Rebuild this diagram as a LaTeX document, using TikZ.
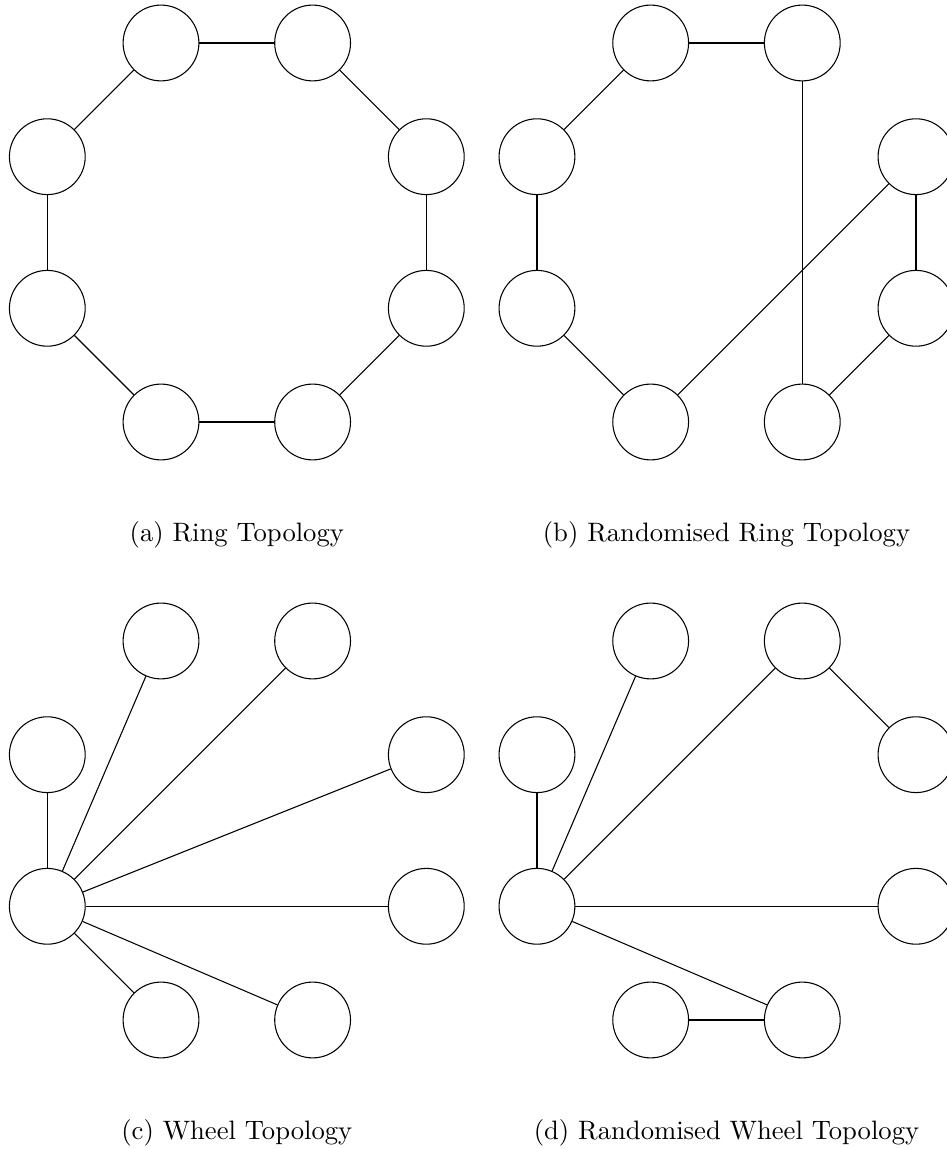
\documentclass[tikz,border=0pt]{standalone}
\tikzset{
  vertex/.style={draw, circle, minimum size=1cm, inner sep=0pt, line width=0.4pt},
  link/.style={line width=0.4pt},
  subcap/.style={anchor=base, inner sep=0pt}
}
% eight vertices on the octagon-like grid, names prefixed by #1
\newcommand\octnodes[1]{%
  \node[vertex] (#1tl) at (1.5,5)   {};
  \node[vertex] (#1tr) at (3.5,5)   {};
  \node[vertex] (#1ul) at (0,3.5)   {};
  \node[vertex] (#1ur) at (5,3.5)   {};
  \node[vertex] (#1ll) at (0,1.5)   {};
  \node[vertex] (#1lr) at (5,1.5)   {};
  \node[vertex] (#1bl) at (1.5,0)   {};
  \node[vertex] (#1br) at (3.5,0)   {};
}
\begin{document}
\begin{tikzpicture}
\useasboundingbox (0,0) rectangle (12.493,-15.158);
\clip (0,0) rectangle (12.493,-15.158);

% (a) ring
\begin{scope}[shift={(0.624,-5.567)}]
  \octnodes{a}
  \draw[link] (atl) -- (atr);
  \draw[link] (atl) -- (aul);
  \draw[link] (aul) -- (all);
  \draw[link] (all) -- (abl);
  \draw[link] (abl) -- (abr);
  \draw[link] (abr) -- (alr);
  \draw[link] (alr) -- (aur);
  \draw[link] (aur) -- (atr);
  \node[subcap] (capa) at (2.5,-1.57) {(a) Ring Topology};
\end{scope}

% (b) randomised ring
\begin{scope}[shift={(7.084,-5.567)}]
  \octnodes{b}
  \draw[link] (btl) -- (btr);
  \draw[link] (btl) -- (bul);
  \draw[link] (bul) -- (bll);
  \draw[link] (bll) -- (bbl);
  \draw[link] (bbl) -- (bur);
  \draw[link] (bur) -- (blr);
  \draw[link] (blr) -- (bbr);
  \draw[link] (bbr) -- (btr);
  \node[subcap] (capb) at (2.5,-1.57) {(b) Randomised Ring Topology};
\end{scope}

% (c) wheel
\begin{scope}[shift={(0.624,-13.456)}]
  \octnodes{c}
  \foreach \v in {cul,ctl,ctr,cur,clr,cbr,cbl}
    \draw[link] (cll) -- (\v);
  \node[subcap] (capc) at (2.5,-1.57) {(c) Wheel Topology};
\end{scope}

% (d) randomised wheel
\begin{scope}[shift={(7.084,-13.456)}]
  \octnodes{d}
  \foreach \v in {dul,dtl,dtr,dlr,dbr}
    \draw[link] (dll) -- (\v);
  \draw[link] (dtr) -- (dur);
  \draw[link] (dbl) -- (dbr);
  \node[subcap] (capd) at (2.5,-1.57) {(d) Randomised Wheel Topology};
\end{scope}
\end{tikzpicture}
\end{document}
